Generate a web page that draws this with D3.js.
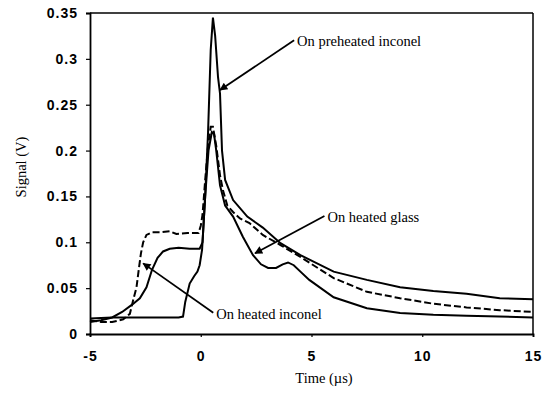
<!DOCTYPE html>
<html>
<head>
<meta charset="utf-8">
<script src="https://cdn.jsdelivr.net/npm/d3@7"></script>
<style>
  body { margin: 0; background: #fff; }
  .tick text { font-family: "Liberation Sans", Arial, sans-serif; font-weight: bold; font-size: 14px; letter-spacing: 1px; fill: #000; }
  .lbl { font-family: "Liberation Serif", "Times New Roman", serif; font-size: 14.5px; fill: #000; }
</style>
</head>
<body>
<svg id="chart" width="547" height="400"></svg>
<script>
// time (µs), signal (V)
const heatedInconel = [
  [-5, 0.015], [-4.5, 0.013], [-4, 0.013], [-3.5, 0.016], [-3.2, 0.022], [-3.05, 0.037],
  [-2.9, 0.051], [-2.8, 0.07], [-2.7, 0.088], [-2.6, 0.1], [-2.45, 0.108], [-2.2, 0.111],
  [-1.8, 0.111], [-1.4, 0.112], [-1.1, 0.109], [-0.6, 0.11], [-0.1, 0.11], [0.0, 0.118],
  [0.08, 0.13], [0.2, 0.168], [0.33, 0.205], [0.45, 0.226], [0.55, 0.226], [0.7, 0.205],
  [0.87, 0.173], [1.0, 0.157], [1.2, 0.14], [1.46, 0.133], [1.77, 0.126], [2.2, 0.121],
  [2.8, 0.108], [3.6, 0.097], [4.5, 0.084], [6, 0.061], [7.5, 0.046], [9, 0.039],
  [10.5, 0.033], [12, 0.029], [13.5, 0.026], [15, 0.024]
];
const heatedGlass = [
  [-5, 0.013], [-4.5, 0.015], [-4, 0.018], [-3.55, 0.024], [-3.1, 0.032], [-2.75, 0.039],
  [-2.45, 0.051], [-2.2, 0.07], [-1.95, 0.083], [-1.7, 0.09], [-1.4, 0.093], [-1.0, 0.094],
  [-0.5, 0.093], [-0.05, 0.093], [0.08, 0.1], [0.2, 0.15], [0.35, 0.2], [0.5, 0.22],
  [0.6, 0.218], [0.7, 0.2], [0.87, 0.162], [1.1, 0.14], [1.46, 0.128], [1.9, 0.106],
  [2.36, 0.086], [2.72, 0.076], [3.04, 0.072], [3.4, 0.072], [3.7, 0.076], [3.94, 0.078],
  [4.2, 0.075], [4.5, 0.068], [4.9, 0.059], [6, 0.04], [7.5, 0.028], [9, 0.023],
  [10.5, 0.021], [12, 0.02], [15, 0.018]
];
const preheatedInconel = [
  [-5, 0.017], [-4, 0.018], [-3, 0.018], [-2, 0.018], [-1, 0.018], [-0.8, 0.019],
  [-0.7, 0.035], [-0.5, 0.055], [-0.3, 0.063], [-0.15, 0.068], [-0.05, 0.075], [0.06, 0.092],
  [0.2, 0.15], [0.33, 0.22], [0.45, 0.31], [0.55, 0.345], [0.65, 0.325], [0.78, 0.28],
  [0.87, 0.262], [0.96, 0.2], [1.1, 0.168], [1.46, 0.146], [2.1, 0.128], [2.8, 0.116],
  [3.6, 0.099], [4.5, 0.086], [6, 0.068], [7.5, 0.059], [9, 0.051], [10.5, 0.047],
  [12, 0.044], [13.5, 0.039], [15, 0.038]
];

const xTicks = [-5, 0, 5, 10, 15];
const xTickLabels = ["-5", "0", "5", "10", "15"];
const yTicks = [0, 0.05, 0.1, 0.15, 0.2, 0.25, 0.3, 0.35];
const yTickLabels = ["0", "0.05", "0.1", "0.15", "0.2", "0.25", "0.3", "0.35"];

// label text, label anchor point (data units) and arrow tip (data units)
const notes = [
  { text: "On preheated inconel", at: [4.35, 0.318], tip: [0.87, 0.266] },
  { text: "On heated glass", at: [5.72, 0.1265], tip: [2.45, 0.088] },
  { text: "On heated inconel", at: [0.7, 0.021], tip: [-2.6, 0.077] }
];

const svg = d3.select("#chart");

const x = d3.scaleLinear().domain([-5, 15]).range([90, 533]);
const y = d3.scaleLinear().domain([0, 0.35]).range([334, 13]);

svg.append("defs").append("marker")
  .attr("id", "head")
  .attr("viewBox", "0 0 10 10")
  .attr("refX", 9).attr("refY", 5)
  .attr("markerWidth", 10).attr("markerHeight", 8)
  .attr("markerUnits", "userSpaceOnUse")
  .attr("orient", "auto")
  .append("path")
  .attr("d", "M0,0 L10,5 L0,10 z")
  .attr("fill", "#000");

// frame
svg.append("line").attr("x1", x(-5)).attr("x2", x(15)).attr("y1", y(0.35)).attr("y2", y(0.35))
  .attr("stroke", "#000").attr("stroke-width", 1.5);
svg.append("line").attr("x1", x(15)).attr("x2", x(15)).attr("y1", y(0.35)).attr("y2", y(0))
  .attr("stroke", "#000").attr("stroke-width", 1.5);

svg.append("g")
  .attr("transform", `translate(0,${y(0)})`)
  .call(d3.axisBottom(x).tickValues(xTicks).tickSize(3).tickPadding(14).tickFormat((d, i) => xTickLabels[i]))
  .call(g => g.select(".domain").attr("stroke-width", 1.8))
  .call(g => g.selectAll(".tick line").attr("stroke-width", 1.2));

svg.append("g")
  .attr("transform", `translate(${x(-5)},0)`)
  .call(d3.axisLeft(y).tickValues(yTicks).tickSize(4).tickPadding(8).tickFormat((d, i) => yTickLabels[i]))
  .call(g => g.select(".domain").attr("stroke-width", 1.8))
  .call(g => g.selectAll(".tick line").attr("stroke-width", 1.2));

const line = d3.line().x(d => x(d[0])).y(d => y(d[1]));

svg.append("path").datum(preheatedInconel)
  .attr("d", line).attr("fill", "none").attr("stroke", "#000").attr("stroke-width", 2);
svg.append("path").datum(heatedGlass)
  .attr("d", line).attr("fill", "none").attr("stroke", "#000").attr("stroke-width", 2);
svg.append("path").datum(heatedInconel)
  .attr("d", line).attr("fill", "none").attr("stroke", "#000").attr("stroke-width", 2)
  .attr("stroke-dasharray", "7,3");

notes.forEach(n => {
  svg.append("line")
    .attr("x1", x(n.at[0]) - 3).attr("y1", y(n.at[1]) - 2)
    .attr("x2", x(n.tip[0])).attr("y2", y(n.tip[1]))
    .attr("stroke", "#000").attr("stroke-width", 1.8)
    .attr("marker-end", "url(#head)");
  svg.append("text").attr("class", "lbl")
    .attr("x", x(n.at[0])).attr("y", y(n.at[1]) + 4)
    .text(n.text);
});

svg.append("text").attr("class", "lbl")
  .attr("transform", `translate(26,167) rotate(-90)`)
  .attr("text-anchor", "middle")
  .text("Signal (V)");

svg.append("text").attr("class", "lbl")
  .attr("x", 324).attr("y", 383)
  .attr("text-anchor", "middle")
  .text("Time (µs)");
</script>
</body>
</html>
